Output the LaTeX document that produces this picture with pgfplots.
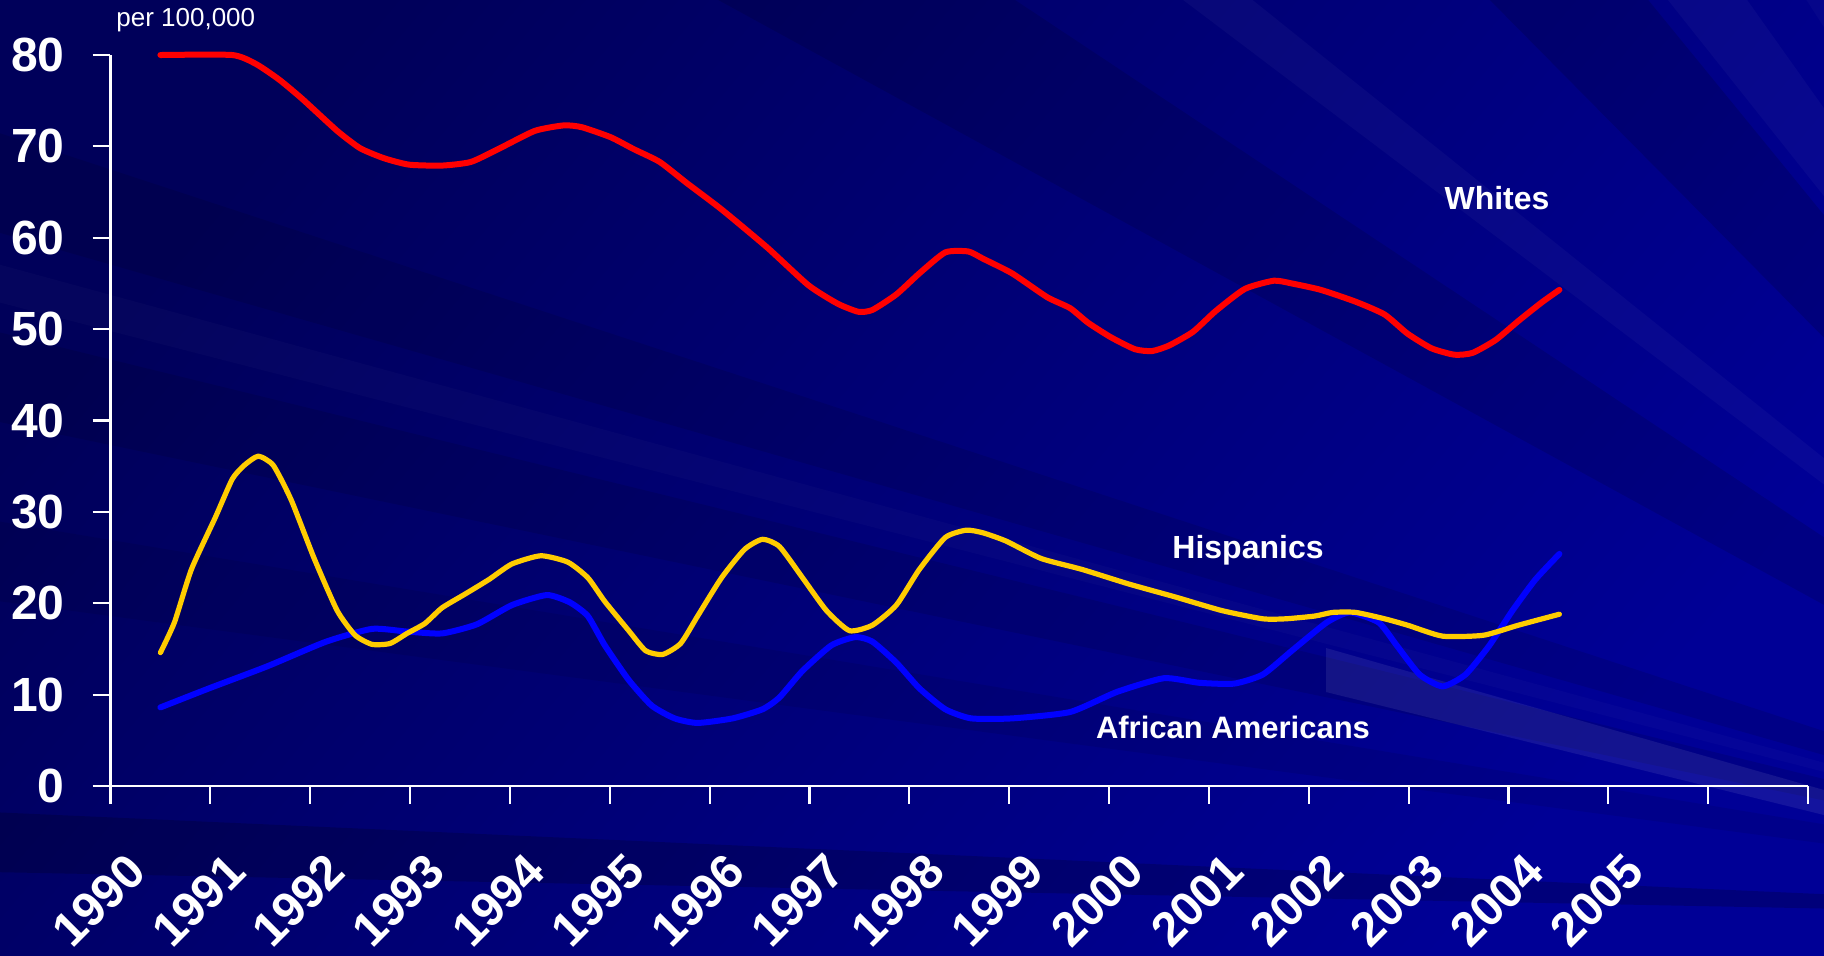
\documentclass[border=0pt]{standalone}
\usepackage{pgfplots}
\pgfplotsset{compat=1.18}
\usepackage{fontspec}
\setmainfont{Liberation Sans}
\definecolor{bgtop}{HTML}{00005A}
\definecolor{bgmid}{HTML}{00007C}
\definecolor{bgbot}{HTML}{000096}
\definecolor{wred}{HTML}{FF0000}
\definecolor{hyel}{HTML}{FFCC00}
\definecolor{ablue}{HTML}{0000FF}
\begin{document}
\begin{tikzpicture}
\begin{scope}[shift={(-55.25pt,393pt)}, x=0.5pt, y=-0.5pt]
  \useasboundingbox (0,0) rectangle (1824,955);
  \begin{scope}
  \clip (0,0) rectangle (1824,955);
  \shade[shading=axis, top color=bgtop, middle color=bgmid, bottom color=bgbot, shading angle=50] (0,0) rectangle (1824,955);
  % rays converging towards a point beyond the lower right corner
  \fill[black, opacity=0.10] (2400,920) -- (-10,130) -- (-10,230) -- cycle;
  \fill[black, opacity=0.10] (2400,920) -- (-10,330) -- (-10,420) -- cycle;
  \fill[black, opacity=0.08] (2400,920) -- (-10,520) -- (-10,600) -- cycle;
  \fill[black, opacity=0.18] (2400,920) -- (-10,812) -- (-10,872) -- cycle;
  \fill[black, opacity=0.12] (2400,920) -- (700,-10) -- (1000,-10) -- cycle;
  \fill[black, opacity=0.14] (2400,920) -- (1480,-10) -- (1640,-10) -- cycle;
  \fill[white, opacity=0.02] (2400,920) -- (-10,262) -- (-10,300) -- cycle;
  \fill[white, opacity=0.03] (2400,920) -- (1170,-10) -- (1240,-10) -- cycle;
  \fill[white, opacity=0.03] (2400,920) -- (1660,-10) -- (1740,-10) -- cycle;
  \fill[white, opacity=0.025] (2400,920) -- (1800,-10) -- (1850,-10) -- cycle;
  \fill[white, opacity=0.08] (1326,648) -- (1824,790) -- (1824,815) -- (1326,692) -- cycle;
  \end{scope}
  \node[white, anchor=west, inner sep=0pt, font=\fontsize{13}{13}\selectfont] at (116,20) {per 100,000};
  \node[white, font=\bfseries\fontsize{16}{16}\selectfont] at (1497,198) {Whites};
  \node[white, font=\bfseries\fontsize{16}{16}\selectfont] at (1248,550) {Hispanics};
  \node[white, font=\bfseries\fontsize{15.5}{15.5}\selectfont] at (1233,727) {African Americans};
\end{scope}
\begin{axis}[
  scale only axis, width=848.75pt, height=365.5pt,
  xmin=-0.5, xmax=16.5, ymin=0, ymax=80,
  axis x line*=bottom, axis y line*=left,
  axis line style={draw=white, line width=1.1pt, -},
  tick style={draw=white, line width=1.1pt},
  tick align=outside,
  major tick length=0pt, minor tick length=9pt,
  xtick={0,...,15},
  xticklabels={1990,1991,1992,1993,1994,1995,1996,1997,1998,1999,2000,2001,2002,2003,2004,2005},
  minor xtick={-0.5,0.5,...,16.5},
  ytick={0,10,...,80},
  minor ytick={0,10,...,80},
  /pgf/number format/assume math mode=true,
  yticklabel style={font=\bfseries\fontsize{24}{24}\selectfont, text=white, anchor=east, inner sep=0pt, xshift=-22.75pt},
  xticklabel style={font=\bfseries\fontsize{24}{24}\selectfont, text=white, xshift=-18pt, yshift=-32pt, rotate=45, anchor=north east, inner sep=0pt},
  clip=false,
  every axis plot/.append style={line cap=round, line join=round, smooth, tension=0.35},
]
\addplot[wred, line width=3pt] coordinates {
(0,80.0) (0.72,80.0) (0.96,79.0) (1.19,77.3) (1.42,75.2) (1.77,71.7) (2.00,69.8) (2.24,68.7)
(2.49,68.0) (2.82,67.9) (3.11,68.3) (3.40,69.8) (3.75,71.7) (4.04,72.3) (4.22,72.1) (4.51,71.0)
(4.74,69.7) (5.00,68.3) (5.27,66.0) (5.62,63.1) (6.08,58.9) (6.49,54.8) (6.78,52.8) (6.99,51.9)
(7.13,52.1) (7.37,53.8) (7.60,56.1) (7.86,58.4) (8.09,58.5) (8.24,57.7) (8.53,56.1) (8.88,53.5)
(9.11,52.3) (9.29,50.7) (9.52,49.1) (9.76,47.8) (9.93,47.6) (10.10,48.2) (10.34,49.7) (10.57,52.0)
(10.86,54.4) (11.15,55.3) (11.33,55.0) (11.62,54.3) (11.97,53.0) (12.26,51.6) (12.49,49.5)
(12.73,47.9) (12.96,47.2) (13.14,47.4) (13.37,48.8) (13.60,50.9) (13.83,52.9) (14.01,54.3)
};
\addplot[ablue, line width=3pt] coordinates {
(0,8.6) (0.49,10.7) (1.07,13.1) (1.66,15.8) (2.12,17.2) (2.47,16.9) (2.82,16.7) (3.17,17.7)
(3.52,19.8) (3.87,20.9) (4.10,20.1) (4.28,18.6) (4.45,15.4) (4.69,11.6) (4.92,8.8) (5.15,7.4)
(5.38,6.9) (5.73,7.4) (6.03,8.4) (6.20,9.7) (6.43,12.6) (6.72,15.4) (6.96,16.3) (7.13,15.8)
(7.37,13.5) (7.60,10.7) (7.86,8.4) (8.12,7.4) (8.53,7.4) (9.11,8.1) (9.58,10.3) (10.05,11.8)
(10.40,11.3) (10.75,11.2) (11.04,12.2) (11.33,14.8) (11.68,17.9) (11.91,19.0) (12.20,17.9)
(12.38,15.4) (12.61,12.2) (12.84,10.9) (13.07,12.2) (13.31,15.4) (13.54,19.2) (13.77,22.6) (14.01,25.4)
};
\addplot[hyel, line width=2.6pt] coordinates {
(0,14.6) (0.14,17.9) (0.31,23.7) (0.55,29.4) (0.72,33.6) (0.84,35.1) (0.98,36.1) (1.13,35.1)
(1.31,31.3) (1.54,24.9) (1.77,19.2) (1.95,16.5) (2.12,15.5) (2.30,15.6) (2.47,16.7) (2.65,17.8)
(2.82,19.5) (3.05,21.0) (3.29,22.6) (3.52,24.3) (3.81,25.2) (4.08,24.5) (4.28,22.8) (4.45,20.2)
(4.69,17.0) (4.86,14.8) (5.03,14.4) (5.21,15.6) (5.38,18.6) (5.62,22.8) (5.85,25.9) (6.03,27.0)
(6.20,26.2) (6.43,22.8) (6.67,19.2) (6.90,17.0) (7.13,17.6) (7.37,19.8) (7.60,23.7) (7.86,27.2)
(8.07,28.0) (8.24,27.7) (8.47,26.8) (8.82,24.9) (9.23,23.7) (9.70,22.1) (10.16,20.7) (10.63,19.2)
(11.04,18.3) (11.27,18.3) (11.56,18.6) (11.74,19.0) (11.97,19.0) (12.26,18.3) (12.49,17.6)
(12.84,16.4) (13.25,16.5) (13.60,17.6) (14.01,18.8)
};
\end{axis}
\pgfresetboundingbox
\useasboundingbox (-55.25pt,-84.5pt) rectangle (856.75pt,393pt);
\end{tikzpicture}
\end{document}
